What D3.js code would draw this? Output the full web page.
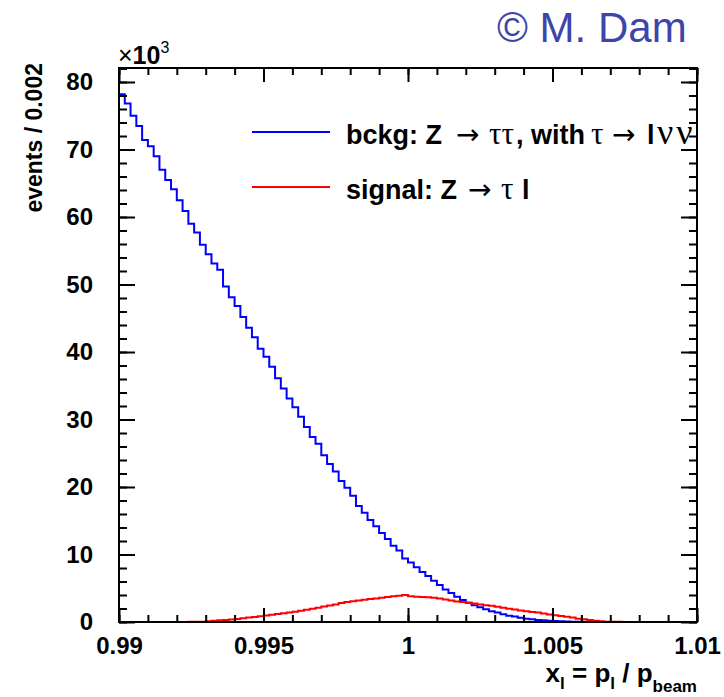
<!DOCTYPE html>
<html>
<head>
<meta charset="utf-8">
<script src="https://cdn.jsdelivr.net/npm/d3@7"></script>
<style>
body { margin: 0; background: #fff; }
text { font-family: "Liberation Sans", Arial, Helvetica, sans-serif; }
</style>
</head>
<body>
<svg id="chart" width="724" height="697"></svg>
<script>
// ---- data ----
const binStart = 0.99;
const binWidth = 0.0002;
const bckg = [78.2,76.8,75.0,73.5,71.4,70.5,69.0,67.0,65.5,64.1,62.5,60.9,59.0,57.7,55.9,54.5,53.1,52.2,49.7,48.1,46.8,45.2,43.6,42.2,40.5,39.3,37.8,36.1,
  34.6,33.1,31.8,30.4,28.9,27.4,26.4,24.7,23.4,22.3,20.9,19.9,18.7,17.2,16.2,15.1,14.2,13.2,12.3,11.3,10.6,9.4,8.8,8.1,7.4,6.8,
  6.1,5.5,4.8,4.3,3.75,3.26,2.86,2.5,2.2,1.9,1.6,1.4,1.14,0.93,0.8,0.64,0.5,0.4,0.3,0.25,0.2,0.15,0.1,0.07,0.05,0.03,0.02,
  0.02,0.01,0.01,0.01,0.01,0,0,0,0,0,0,0,0,0,0,0,0,0,0];
const signal = [0,0,0,0,0,0,0,0,0.01,0.01,0.01,0.01,0.02,
  0.02,0.05,0.1,0.18,0.25,0.3,0.37,0.45,0.55,0.65,0.75,0.85,0.95,1.07,1.2,1.3,1.4,1.52,1.65,1.8,1.95,2.1,2.3,2.45,2.6,2.8,2.97,
  3.08,3.2,3.3,3.4,3.5,3.6,3.7,3.8,3.9,4.0,3.8,3.75,3.7,3.65,3.6,3.5,3.35,3.2,3.05,2.95,2.85,2.75,2.6,2.5,2.4,2.25,2.1,1.95,
  1.85,1.72,1.6,1.5,1.4,1.25,1.1,1.0,0.9,0.78,0.65,0.5,0.4,0.3,0.2,0.12,0.05,0.03,
  0.02,0.01,0.01,0,0,0,0,0,0,0,0,0,0,0];
const xMajorTicks = [0.99, 0.995, 1.0, 1.005, 1.01];
const xTickLabels = ["0.99", "0.995", "1", "1.005", "1.01"];
const yMajorTicks = [0, 10, 20, 30, 40, 50, 60, 70, 80];
const yTickLabels = ["0", "10", "20", "30", "40", "50", "60", "70", "80"];
const xMinorTicks = d3.range(0, 21).map(i => 0.99 + i * 0.001);
const yMinorTicks = d3.range(0, 42).map(i => i * 2);
const legendLabels = ["bckg", "signal"];

// ---- layout ----
const L = 119, R = 697, T = 68, B = 622;
const svg = d3.select("#chart");
const x = d3.scaleLinear().domain([0.99, 1.01]).range([L, R]);
const y = d3.scaleLinear().domain([0, 80]).range([B, 82]);

svg.append("defs").append("clipPath").attr("id", "clip")
  .append("rect").attr("x", L).attr("y", T).attr("width", R - L).attr("height", B - T);

function stepPath(vals) {
  const p = d3.path();
  p.moveTo(x(binStart), y(0));
  vals.forEach((v, i) => {
    const x0 = x(binStart + i * binWidth), x1 = x(binStart + (i + 1) * binWidth);
    p.lineTo(x0, y(v));
    p.lineTo(x1, y(v));
  });
  p.lineTo(x(binStart + vals.length * binWidth), y(0));
  return p.toString();
}

const g = svg.append("g").attr("clip-path", "url(#clip)");
g.append("path").attr("d", stepPath(bckg)).attr("fill", "none").attr("stroke", "#0000ff").attr("stroke-width", 2);
g.append("path").attr("d", stepPath(signal)).attr("fill", "none").attr("stroke", "#ff0000").attr("stroke-width", 2);

// ---- axes ----
function styleAxis(sel) {
  sel.select(".domain").remove();
  sel.selectAll("line").attr("stroke", "#000").attr("stroke-width", 2);
}
const fontTick = "24px";
// minor ticks
svg.append("g").attr("transform", `translate(0,${B})`)
  .call(d3.axisBottom(x).tickValues(xMinorTicks).tickSize(-7).tickFormat(""))
  .call(styleAxis);
svg.append("g").attr("transform", `translate(0,${T})`)
  .call(d3.axisTop(x).tickValues(xMinorTicks).tickSize(-7).tickFormat(""))
  .call(styleAxis);
svg.append("g").attr("transform", `translate(${L},0)`)
  .call(d3.axisLeft(y).tickValues(yMinorTicks.filter(v => y(v) >= T)).tickSize(-8).tickFormat(""))
  .call(styleAxis);
svg.append("g").attr("transform", `translate(${R},0)`)
  .call(d3.axisRight(y).tickValues(yMinorTicks.filter(v => y(v) >= T)).tickSize(-8).tickFormat(""))
  .call(styleAxis);
// major ticks
svg.append("g").attr("transform", `translate(0,${B})`)
  .call(d3.axisBottom(x).tickValues(xMajorTicks).tickSize(-14).tickPadding(15)
    .tickFormat((d, i) => xTickLabels[i]))
  .call(styleAxis)
  .call(s => s.selectAll("text").attr("fill", "#000").style("font-size", fontTick).style("font-weight", "bold")
    .style("font-family", "'Liberation Sans', Arial, sans-serif"));
svg.append("g").attr("transform", `translate(0,${T})`)
  .call(d3.axisTop(x).tickValues(xMajorTicks).tickSize(-14).tickFormat(""))
  .call(styleAxis);
svg.append("g").attr("transform", `translate(${L},0)`)
  .call(d3.axisLeft(y).tickValues(yMajorTicks).tickSize(-16).tickPadding(26)
    .tickFormat((d, i) => yTickLabels[i]))
  .call(styleAxis)
  .call(s => s.selectAll("text").attr("fill", "#000").style("font-size", fontTick).style("font-weight", "bold")
    .style("font-family", "'Liberation Sans', Arial, sans-serif"));
svg.append("g").attr("transform", `translate(${R},0)`)
  .call(d3.axisRight(y).tickValues(yMajorTicks).tickSize(-16).tickFormat(""))
  .call(styleAxis);

// frame
svg.append("rect").attr("x", L).attr("y", T).attr("width", R - L).attr("height", B - T)
  .attr("fill", "none").attr("stroke", "#000").attr("stroke-width", 2);

// ---- texts ----
// x10^3
const mult = svg.append("text").attr("x", 118).attr("y", 64).style("font-size", "25px").style("font-weight", "bold");
mult.append("tspan").style("font-weight", "normal").text("×");
mult.append("tspan").text("10");
mult.append("tspan").attr("dy", -11).style("font-size", "16px").style("font-weight", "normal").text("3");

// y title
svg.append("text").attr("transform", "translate(42,63) rotate(-90)")
  .attr("text-anchor", "end").style("font-size", "23px").style("font-weight", "bold")
  .text("events / 0.002");

// x title
const xt = svg.append("text").attr("x", 697).attr("y", 682).attr("text-anchor", "end")
  .style("font-size", "26px").style("font-weight", "bold");
xt.append("tspan").text("x");
xt.append("tspan").attr("dy", 7).style("font-size", "17px").text("l");
xt.append("tspan").attr("dy", -7).text(" = p");
xt.append("tspan").attr("dy", 7).style("font-size", "17px").text("l");
xt.append("tspan").attr("dy", -7).text(" / p");
xt.append("tspan").attr("dy", 10).style("font-size", "17px").text("beam");

// copyright
svg.append("text").attr("x", 497).attr("y", 42).attr("fill", "#3c46aa")
  .style("font-size", "42px").text("© M. Dam");

// legend
const serif = "'Liberation Serif', 'DejaVu Serif', Times, serif";
const arrowFont = "'DejaVu Sans', sans-serif";
const legY = [132, 187];
const legColors = ["#0000ff", "#ff0000"];
legY.forEach((ly, i) => {
  svg.append("line").attr("x1", 252).attr("x2", 330).attr("y1", ly).attr("y2", ly)
    .attr("stroke", legColors[i]).attr("stroke-width", 2);
});
function part(t, px, txt, font, size) {
  const s = t.append("tspan").attr("x", px).text(txt);
  if (font) s.style("font-family", font).style("font-weight", "normal");
  if (size) s.style("font-size", size);
  return s;
}
const t1 = svg.append("text").attr("y", legY[0] + 12).style("font-size", "27px").style("font-weight", "bold");
part(t1, 346, legendLabels[0] + ": Z");
part(t1, 456, "→", arrowFont, "28px");
part(t1, 489, "ττ", serif, "31px");
part(t1, 516, ", with");
part(t1, 591, "τ", serif, "31px");
part(t1, 612, "→", arrowFont, "28px");
part(t1, 647, "l");
part(t1, 657, "νν", serif, "36px").style("letter-spacing", "3px");

const t2 = svg.append("text").attr("y", legY[1] + 12).style("font-size", "27px").style("font-weight", "bold");
part(t2, 346, legendLabels[1] + ": Z");
part(t2, 468, "→", arrowFont, "28px");
part(t2, 501, "τ", serif, "31px");
part(t2, 522, "l");
</script>
</body>
</html>
